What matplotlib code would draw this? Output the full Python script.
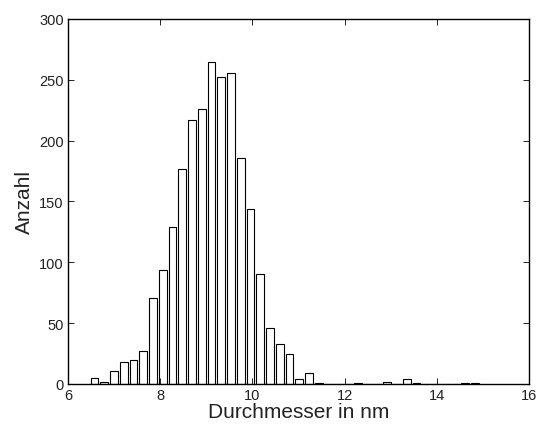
import matplotlib

matplotlib.use("AGG")
import numpy as np
import matplotlib.pyplot as plt

# histogram of particle diameters (40 bins)
bin_start = 6.575  # centre of first bin, nm
bin_step = 0.2116  # bin spacing, nm
counts = [5, 2, 11, 18, 20, 27, 71, 94, 129, 177,
          217, 226, 265, 252, 256, 186, 144, 90, 46, 33,
          25, 4, 9, 1, 0, 0, 0, 1, 0, 0,
          2, 0, 4, 1, 0, 0, 0, 0, 1, 1]
xticks = [6, 8, 10, 12, 14, 16]
yticks = [0, 50, 100, 150, 200, 250, 300]

centers = bin_start + bin_step * np.arange(len(counts))

plt.rcParams["font.family"] = ["Liberation Sans", "DejaVu Sans"]

fig = plt.figure(figsize=(5.44, 4.27), dpi=100)
ax = fig.add_axes([0.125, 0.0984, 0.8474, 0.8548])

ax.bar(centers, counts, width=0.8 * bin_step, color="white",
       edgecolor="black", linewidth=0.8)

ax.set_xlim(6, 16)
ax.set_ylim(0, 300)
ax.set_xticks(xticks)
ax.set_yticks(yticks)
ax.tick_params(direction="in", length=4, width=0.6, labelsize=10.5,
               top=True, right=True, labelcolor="#222222")
ax.tick_params(axis="x", pad=3)
ax.tick_params(axis="y", pad=3)
for s in ax.spines.values():
    s.set_linewidth(1.0)

ax.set_xlabel("Durchmesser in nm", fontsize=15, labelpad=0, color="#222222")
ax.set_ylabel("Anzahl", fontsize=15, labelpad=4, color="#222222")

fig.savefig("out.png", dpi=100)
